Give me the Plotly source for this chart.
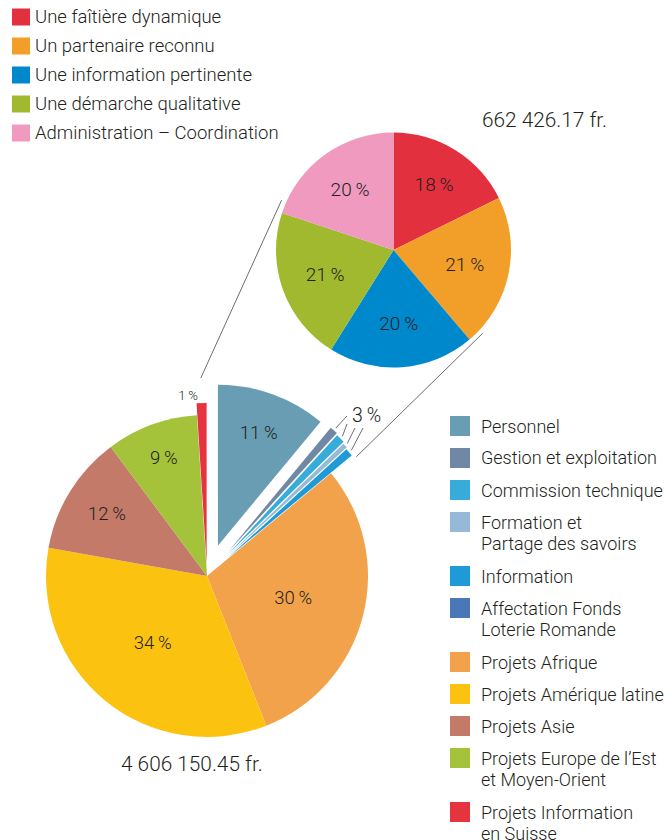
import math
import plotly.graph_objects as go

W, H = 668, 840

# ---------------- data ----------------
small_labels = ["Une faîtière dynamique", "Un partenaire reconnu", "Une information pertinente",
                "Une démarche qualitative", "Administration – Coordination"]
small_values = [17.7, 21.1, 20.1, 21.2, 19.9]
small_colors = ["#e3303f", "#f29f2a", "#0088cd", "#a0b92f", "#f09ac0"]
small_total = "662 426.17 fr."

big_labels = ["Personnel", "Gestion et exploitation", "Commission technique",
              "Formation et<br>Partage des savoirs", "Information",
              "Affectation Fonds<br>Loterie Romande", "Projets Afrique",
              "Projets Amérique latine", "Projets Asie",
              "Projets Europe de l’Est<br>et Moyen-Orient", "Projets Information<br>en Suisse"]
big_values = [11.0, 0.8, 0.9, 0.5, 0.8, 0.0, 30.0, 33.8, 12.0, 9.2, 1.0]
big_colors = ["#699db3", "#7187a6", "#38acd9", "#96b9d8", "#1e9bd7", "#4a77b8",
              "#f3a24c", "#fbc30f", "#c47a68", "#a4c33b", "#e5333f"]
big_total = "4 606 150.45 fr."
small_group = [1, 2, 3, 4, 5]          # indices summarised by the "3 %" label

# ---------------- styling / geometry ----------------
FONT = "Roboto"
WT = 300
TXT = "#231f20"
LINE = "#6d6e71"
big_pull = [0.20, 0.20, 0.19, 0.18, 0.17, 0.17, 0, 0, 0, 0, 0.075]
BIG_CX, BIG_CY, BIG_R = 207, 576, 161
SM_CX, SM_CY, SM_R = 393.5, 250, 117.5

def px(x, y):
    return x / W, 1 - y / H

def pol(cx, cy, r, ang):
    a = math.radians(ang)
    return cx + r * math.sin(a), cy - r * math.cos(a)

big_half = BIG_R * (1 + max(big_pull))
big_dom_x = [(BIG_CX - big_half) / W, (BIG_CX + big_half) / W]
big_dom_y = [1 - (BIG_CY + big_half) / H, 1 - (BIG_CY - big_half) / H]
sm_dom_x = [(SM_CX - SM_R) / W, (SM_CX + SM_R) / W]
sm_dom_y = [1 - (SM_CY + SM_R) / H, 1 - (SM_CY - SM_R) / H]

big_sum = sum(big_values)
sm_sum = sum(small_values)
big_text = [f"{round(v / big_sum * 100)}\u2009%" for v in big_values]
sm_text = [f"{round(v / sm_sum * 100)}\u2009%" for v in small_values]
big_pos = ["inside", "none", "none", "none", "none", "none",
           "inside", "inside", "inside", "inside", "outside"]

fig = go.Figure()
fig.add_trace(go.Pie(
    labels=big_labels, values=big_values, sort=False, direction="clockwise", rotation=0,
    pull=big_pull, marker=dict(colors=big_colors, line=dict(width=0)),
    text=big_text, textinfo="text", textposition=big_pos,
    insidetextorientation="horizontal",
    insidetextfont=dict(family=FONT, size=18.5, color=TXT, weight=WT),
    outsidetextfont=dict(family=FONT, size=13, color=TXT, weight=WT),
    domain=dict(x=big_dom_x, y=big_dom_y), showlegend=False, hoverinfo="label+percent",
))
fig.add_trace(go.Pie(
    labels=small_labels, values=small_values, sort=False, direction="clockwise", rotation=0,
    marker=dict(colors=small_colors, line=dict(width=0)),
    text=sm_text, textinfo="text", textposition="inside",
    insidetextorientation="horizontal",
    insidetextfont=dict(family=FONT, size=19, color=TXT, weight=WT),
    domain=dict(x=sm_dom_x, y=sm_dom_y), showlegend=False, hoverinfo="label+percent",
))

shapes, annots = [], []

def line(p0, p1):
    x0, y0 = px(*p0)
    x1, y1 = px(*p1)
    shapes.append(dict(type="line", xref="paper", yref="paper", x0=x0, y0=y0, x1=x1, y1=y1,
                       line=dict(color=LINE, width=1)))

def text(x, y, s, size, anchor="left"):
    xx, yy = px(x, y)
    annots.append(dict(x=xx, y=yy, xref="paper", yref="paper", text=s, showarrow=False,
                       xanchor=anchor, yanchor="middle",
                       font=dict(family=FONT, size=size, color=TXT, weight=WT)))

# cumulative angles of the big pie
starts = []
acc = 0
for v in big_values:
    starts.append(acc / big_sum * 360)
    acc += v
ends = [s + v / big_sum * 360 for s, v in zip(starts, big_values)]

# link lines between the two pies
red = len(big_values) - 1
line(pol(BIG_CX, BIG_CY, 198, (starts[red] + ends[red]) / 2), pol(SM_CX, SM_CY, SM_R + 5, 294))
line(pol(BIG_CX, BIG_CY, 191, ends[small_group[-1]] + 1), pol(SM_CX, SM_CY, SM_R + 4.5, 133))

# "3 %" label with leader lines
grp_pct = round(sum(big_values[i] for i in small_group) / big_sum * 100)
LX, LY = 352, 416
leader_end = [(-5, 0), (-5, 8), (3, 12), (11, 12)]
k = 0
for i in small_group:
    if big_values[i] <= 0:
        continue
    mid = (starts[i] + ends[i]) / 2
    off = BIG_R * big_pull[i]
    ox, oy = pol(0, 0, off, mid)
    sx, sy = pol(BIG_CX + ox, BIG_CY + oy, BIG_R + 3, mid)
    ex, ey = leader_end[k]
    line((sx, sy), (LX + ex, LY + ey))
    k += 1
text(350, 415, f"{grp_pct}\u2009%", 19.5)

# totals
text(480, 120, small_total, 20.8)
text(119, 764, big_total, 20.8)

# top legend (small pie)
for i, (lab, col) in enumerate(zip(small_labels, small_colors)):
    cy = 17 + 29 * i
    x0, y0 = px(12, cy - 8.5)
    x1, y1 = px(30, cy + 8.5)
    shapes.append(dict(type="rect", xref="paper", yref="paper", x0=x0, x1=x1, y0=y0, y1=y1,
                       fillcolor=col, line=dict(width=0)))
    text(33, cy, lab, 18.5)

# bottom legend (big pie)
cy = 426
for lab, col in zip(big_labels, big_colors):
    x0, y0 = px(450, cy - 10)
    x1, y1 = px(470, cy + 10)
    shapes.append(dict(type="rect", xref="paper", yref="paper", x0=x0, x1=x1, y0=y0, y1=y1,
                       fillcolor=col, line=dict(width=0)))
    parts = lab.split("<br>")
    for j, p in enumerate(parts):
        text(479, cy + 21.5 * j, p, 18)
    cy += 32 + 22 * (len(parts) - 1)

fig.update_layout(
    width=W, height=H, margin=dict(l=0, r=0, t=0, b=0, autoexpand=False),
    paper_bgcolor="white", plot_bgcolor="white",
    shapes=shapes, annotations=annots, showlegend=False,
)
post = "document.body.style.margin='0';"
fig.write_html("out.html", post_script=post, config={"displayModeBar": False})
